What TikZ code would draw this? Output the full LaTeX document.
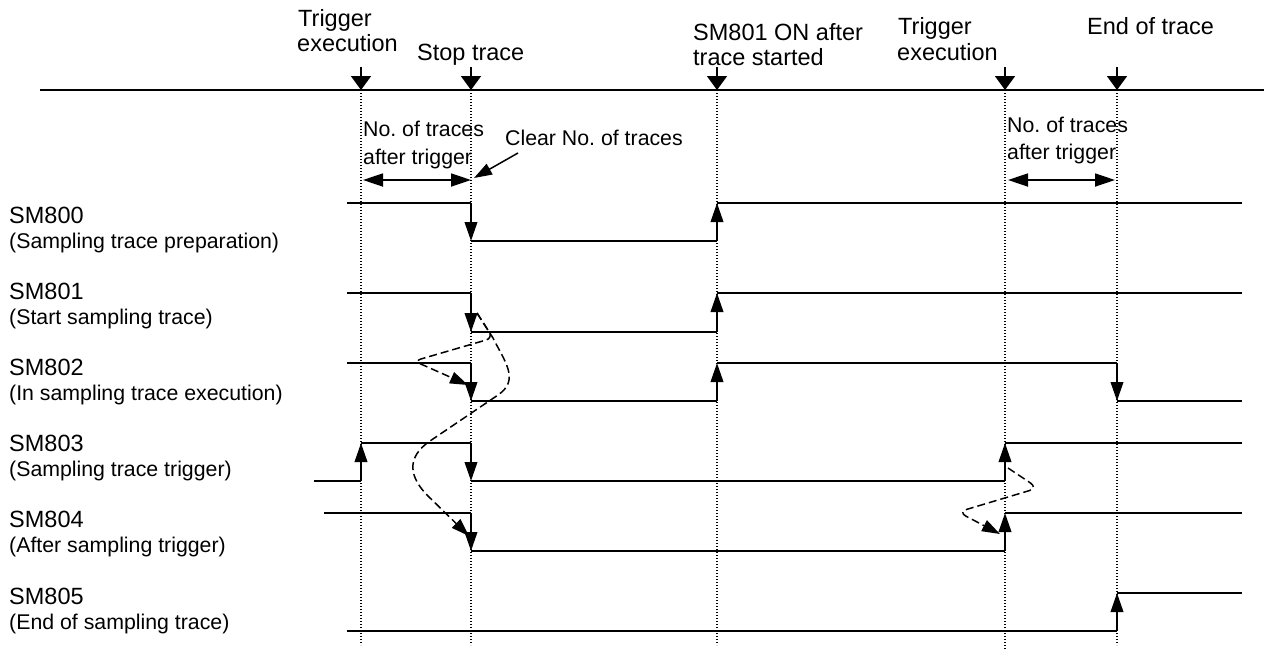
\documentclass[tikz,border=0pt]{standalone}
\usepackage{fontspec}
\setmainfont{Liberation Sans}
\usetikzlibrary{arrows.meta}
\begin{document}
\begin{tikzpicture}[x=1pt,y=-1pt,
  sig/.style={line width=1.7pt},
  edgearrow/.style={line width=2.2pt,-{Triangle[length=19pt,width=12.5pt]}},
  tickarrow/.style={line width=1.8pt,-{Triangle[length=14pt,width=20pt]}},
  dblarrow/.style={line width=1.8pt,{Triangle[length=20pt,width=13pt]}-{Triangle[length=20pt,width=13pt]}},
  ptrarrow/.style={line width=1.5pt,-{Triangle[length=18pt,width=12pt]}},
  causal/.style={line width=1.5pt,dash pattern=on 8pt off 4pt,-{Triangle[length=18pt,width=12pt]}},
  guide/.style={line width=1.2pt,dash pattern=on 1.2pt off 1.8pt},
  biglbl/.style={font=\fontsize{23.5}{27}\selectfont,inner sep=0pt,anchor=base west},
  smllbl/.style={font=\fontsize{21.3}{27}\selectfont,inner sep=0pt,anchor=base west}
]
\useasboundingbox (0,0) rectangle (1264,654);

% level coordinates
\foreach \n/\h/\l in {0/203/241,1/293/332,2/363/401,3/443/481,4/513/551,5/593/631}{
  \foreach \t/\x in {s/347,a/361,b/471,c/717,d/1005,e/1117,z/1242}{
    \coordinate (h\n\t) at (\x,\h);
    \coordinate (l\n\t) at (\x,\l);
  }
}
\coordinate (l3start) at (314,481);
\coordinate (h4start) at (324,513);

% timeline
\coordinate (tl0) at (40,90);
\coordinate (tl1) at (1264,90);
\draw[line width=1.8pt] (tl0) -- (tl1);
\foreach \nm/\x/\yb in {A/361/645,B/471/645,C/717/645,D/1005/650,E/1117/645}{
  \coordinate (top\nm) at (\x,67);
  \coordinate (tim\nm) at (\x,90);
  \coordinate (bot\nm) at (\x,\yb);
  \draw[guide] (tim\nm) -- (bot\nm);
  \draw[tickarrow] (top\nm) -- (tim\nm);
}

% top labels
\node[biglbl] (trigL1) at (298,26) {Trigger};
\node[biglbl] (trigL2) at (297,51) {execution};
\node[biglbl] (stop) at (417,60) {Stop trace};
\node[biglbl] (sm801on1) at (693,40) {SM801 ON after};
\node[biglbl] (sm801on2) at (693,65) {trace started};
\node[biglbl] (trigR1) at (898,34) {Trigger};
\node[biglbl] (trigR2) at (897,60) {execution};
\node[biglbl] (endtr) at (1087,34) {End of trace};

% counts
\node[smllbl] (cntL1) at (363,136) {No.\ of traces};
\node[smllbl] (cntL2) at (363,164) {after trigger};
\node[smllbl] (cntR1) at (1007,132) {No.\ of traces};
\node[smllbl] (cntR2) at (1007,159) {after trigger};
\node[smllbl] (clr) at (505,145) {Clear No.\ of traces};
\coordinate (dL0) at (363,180); \coordinate (dL1) at (471,180);
\coordinate (dR0) at (1008,180); \coordinate (dR1) at (1115,180);
\draw[dblarrow] (dL0) -- (dL1);
\draw[dblarrow] (dR0) -- (dR1);
\coordinate (clrA) at (518,153); \coordinate (clrB) at (474,178);
\draw[ptrarrow] (clrA) -- (clrB);

% signal names
\foreach \n/\nm/\txt [evaluate=\n as \yb using 223+76.2*\n] in
  {0/SM800/(Sampling trace preparation),
   1/SM801/(Start sampling trace),
   2/SM802/(In sampling trace execution),
   3/SM803/(Sampling trace trigger),
   4/SM804/(After sampling trigger),
   5/SM805/(End of sampling trace)}{
  \node[biglbl] (name\n) at (9,\yb) {\nm};
  \node[smllbl] (desc\n) at (9,\yb+25) {\txt};
}

% SM800
\draw[sig] (h0s) -- (h0b); \draw[edgearrow] (h0b) -- (l0b);
\draw[sig] (l0b) -- (l0c); \draw[edgearrow] (l0c) -- (h0c);
\draw[sig] (h0c) -- (h0z);
% SM801
\draw[sig] (h1s) -- (h1b); \draw[edgearrow] (h1b) -- (l1b);
\draw[sig] (l1b) -- (l1c); \draw[edgearrow] (l1c) -- (h1c);
\draw[sig] (h1c) -- (h1z);
% SM802
\draw[sig] (h2s) -- (h2b); \draw[edgearrow] (h2b) -- (l2b);
\draw[sig] (l2b) -- (l2c); \draw[edgearrow] (l2c) -- (h2c);
\draw[sig] (h2c) -- (h2e); \draw[edgearrow] (h2e) -- (l2e);
\draw[sig] (l2e) -- (l2z);
% SM803
\draw[sig] (l3start) -- (l3a); \draw[edgearrow] (l3a) -- (h3a);
\draw[sig] (h3a) -- (h3b); \draw[edgearrow] (h3b) -- (l3b);
\draw[sig] (l3b) -- (l3d); \draw[edgearrow] (l3d) -- (h3d);
\draw[sig] (h3d) -- (h3z);
% SM804
\draw[sig] (h4start) -- (h4b); \draw[edgearrow] (h4b) -- (l4b);
\draw[sig] (l4b) -- (l4d); \draw[edgearrow] (l4d) -- (h4d);
\draw[sig] (h4d) -- (h4z);
% SM805
\draw[sig] (l5s) -- (l5e); \draw[edgearrow] (l5e) -- (h5e);
\draw[sig] (h5e) -- (h5z);

% causal dashed curves
\coordinate (cS) at (477,313);
\coordinate (cC) at (493,338);
\coordinate (cA) at (468,385);
\coordinate (cB) at (469,536);
\draw[causal,rounded corners=7pt] (cS) -- (cC) -- (414,361) -- (cA);
\draw[causal] (cS) -- (cC) .. controls (505,362) and (520,380) .. (498,395)
  -- (430,441) .. controls (405,458) and (410,478) .. (428,496) -- (cB);
\coordinate (rS) at (1008,468);
\coordinate (rB) at (1000,534);
\draw[causal,rounded corners=9pt] (rS) -- (1038,488) -- (958,512) -- (rB);
\end{tikzpicture}
\end{document}
